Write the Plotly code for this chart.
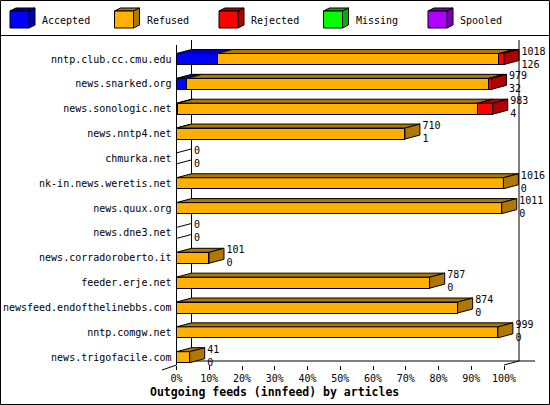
"""
innfeed outgoing feeds by articles - 3D stacked bar look.
"""

import plotly.graph_objects as go

hosts = [
    "nntp.club.cc.cmu.edu",
    "news.snarked.org",
    "news.sonologic.net",
    "news.nntp4.net",
    "chmurka.net",
    "nk-in.news.weretis.net",
    "news.quux.org",
    "news.dne3.net",
    "news.corradoroberto.it",
    "feeder.erje.net",
    "newsfeed.endofthelinebbs.com",
    "nntp.comgw.net",
    "news.trigofacile.com",
]
accepted = [126, 32, 4, 1, 0, 0, 0, 0, 0, 0, 0, 0, 0]
refused = [876, 939, 932, 709, 0, 1016, 1011, 0, 101, 787, 874, 999, 41]
rejected = [16, 8, 47, 0, 0, 0, 0, 0, 0, 0, 0, 0, 0]
missing = [0, 0, 0, 0, 0, 0, 0, 0, 0, 0, 0, 0, 0]
spooled = [0, 0, 0, 0, 0, 0, 0, 0, 0, 0, 0, 0, 0]

categories = ["Accepted", "Refused", "Rejected", "Missing", "Spooled"]
pct_ticks = [0, 10, 20, 30, 40, 50, 60, 70, 80, 90, 100]
pct_labels = ["0%", "10%", "20%", "30%", "40%", "50%", "60%", "70%", "80%", "90%", "100%"]

front_colors = ["#0000ff", "#ffb000", "#ff0000", "#00ff00", "#b000ff"]
side_colors = ["#0000b0", "#b07800", "#b00000", "#00b000", "#7800b0"]

FONT = "DejaVu Sans Mono"
W, H = 550, 405
X0, PX_PER_PCT = 176.5, 3.275  # where 0% sits, pixels per percent
Y0, ROW = 59.0, 24.85  # first row centre, row pitch
DX = 15 / PX_PER_PCT  # depth of the bars, in axis units
DY = 4 / ROW
HALF = 5.5 / ROW


def xd(px):
    return (px - X0) / PX_PER_PCT


def yd(py):
    return (py - Y0) / ROW


def xp(px):
    return px / W


def yp(py):
    return 1 - py / H


series = [accepted, refused, rejected, missing, spooled]
totals = [sum(v) for v in zip(*series)]
top = max(totals)
pct = [[v / top * 100 for v in s] for s in series]
rows = list(range(len(hosts)))

fig = go.Figure()

# front faces
for name, vals, col in zip(categories, pct, front_colors):
    if not any(vals):
        continue
    fig.add_trace(
        go.Bar(
            name=name,
            y=rows,
            x=vals,
            orientation="h",
            width=2 * HALF,
            marker=dict(color=col, line=dict(color="black", width=1)),
            showlegend=False,
            hoverinfo="skip",
        )
    )

# top and side faces
tops = {c: ([], []) for c in range(len(categories))}
sides = {c: ([], []) for c in range(len(categories))}
empty_x, empty_y = [], []
for i in rows:
    yt, yb = i - HALF, i + HALF
    base = 0.0
    last = None
    for c in range(len(categories)):
        v = pct[c][i]
        if v <= 0:
            continue
        xs, ys = tops[c]
        xs += [base, base + v, base + v + DX, base + DX, base, None]
        ys += [yt, yt, yt - DY, yt - DY, yt, None]
        base += v
        last = c
    if last is None:
        # empty feed: only the slanted edges of a zero-length bar
        empty_x += [0, DX, None, 0, DX, None]
        empty_y += [yt, yt - DY, None, yb, yb - DY, None]
        continue
    xs, ys = sides[last]
    xs += [base, base, base + DX, base + DX, base, None]
    ys += [yt, yb, yb - DY, yt - DY, yt, None]

for c in range(len(categories)):
    for xs, ys in (tops[c], sides[c]):
        if not xs:
            continue
        fig.add_trace(
            go.Scatter(
                x=xs,
                y=ys,
                mode="lines",
                fill="toself",
                fillcolor=side_colors[c],
                line=dict(color="black", width=1),
                showlegend=False,
                hoverinfo="skip",
            )
        )

fig.add_trace(
    go.Scatter(
        x=empty_x,
        y=empty_y,
        mode="lines",
        line=dict(color="black", width=1),
        showlegend=False,
        hoverinfo="skip",
    )
)

# count labels: total offered over accepted
fig.add_trace(
    go.Scatter(
        x=[t / top * 100 + DX + 2.5 / PX_PER_PCT for t in totals],
        y=[i - DY + 3.5 / ROW for i in rows],
        mode="text",
        text=[f"{t}<br>{a}" for t, a in zip(totals, accepted)],
        textposition="middle right",
        textfont=dict(family=FONT, size=10, color="black"),
        showlegend=False,
        hoverinfo="skip",
    )
)

# axis frame
frame = [
    (0, yd(45), 0, yd(365)),
    (DX, yd(40), DX, yd(361)),
    (100 + DX, yd(40), 100 + DX, yd(361)),
    (0, yd(361), xd(535), yd(361)),
    (xd(162), yd(370), 0, yd(365)),
    (100, yd(365), 100 + DX, yd(361)),
]
shapes = [
    dict(type="line", xref="x", yref="y", x0=a, y0=b, x1=c, y1=d,
         line=dict(color="black", width=1), layer="below")
    for a, b, c, d in frame
]
shapes.append(dict(type="rect", xref="paper", yref="paper", x0=xp(0.5), y0=yp(0.5),
                   x1=xp(549.5), y1=yp(404.5), line=dict(color="black", width=1)))
shapes.append(dict(type="line", xref="paper", yref="paper", x0=0, y0=yp(35.5),
                   x1=1, y1=yp(35.5), line=dict(color="black", width=1)))

# legend cubes
annotations = []
for k, name in enumerate(categories):
    left = 10 + 104.5 * k
    pts_top = [(left, 11), (left + 6, 8), (left + 25, 8), (left + 19, 11)]
    pts_side = [(left + 19, 11), (left + 25, 8), (left + 25, 25), (left + 19, 28)]
    for pts in (pts_top, pts_side):
        path = "M " + " L ".join(f"{xp(a):.5f},{yp(b):.5f}" for a, b in pts) + " Z"
        shapes.append(dict(type="path", xref="paper", yref="paper", path=path,
                           fillcolor=side_colors[k], line=dict(color="black", width=1)))
    shapes.append(dict(type="rect", xref="paper", yref="paper", x0=xp(left), y0=yp(28),
                       x1=xp(left + 19), y1=yp(11), fillcolor=front_colors[k],
                       line=dict(color="black", width=1)))
    annotations.append(dict(text=name, x=xp(left + 30), y=yp(20.5), xref="paper", yref="paper",
                            xanchor="left", yanchor="middle", showarrow=False,
                            font=dict(family=FONT, size=10, color="black")))

annotations.append(dict(text="<b>Outgoing feeds (innfeed) by articles</b>", x=xp(148), y=yp(392),
                        xref="paper", yref="paper", xanchor="left", yanchor="middle",
                        showarrow=False, font=dict(family=FONT, size=11.5, color="black")))

fig.update_layout(
    width=W,
    height=H,
    margin=dict(l=0, r=0, t=0, b=0),
    paper_bgcolor="white",
    plot_bgcolor="white",
    barmode="stack",
    shapes=shapes,
    annotations=annotations,
    showlegend=False,
    font=dict(family=FONT, size=10, color="black"),
)
fig.update_xaxes(
    domain=[0, 1],
    range=[xd(0), xd(W)],
    anchor="free",
    position=yp(365),
    tickvals=pct_ticks,
    ticktext=pct_labels,
    ticks="outside",
    ticklen=4,
    tickcolor="black",
    showgrid=False,
    zeroline=False,
    showline=False,
    fixedrange=True,
    tickfont=dict(family=FONT, size=10, color="black"),
)
fig.update_yaxes(
    domain=[0, 1],
    range=[yd(H), yd(0)],
    anchor="free",
    position=xp(X0),
    tickvals=rows,
    ticktext=hosts,
    ticks="outside",
    ticklen=3,
    tickcolor="rgba(0,0,0,0)",
    showgrid=False,
    zeroline=False,
    showline=False,
    fixedrange=True,
    tickfont=dict(family=FONT, size=10, color="black"),
)

fig.write_html(
    "out.html",
    config={"displayModeBar": False},
    post_script="document.body.style.margin='0';document.body.style.overflow='hidden';",
)
